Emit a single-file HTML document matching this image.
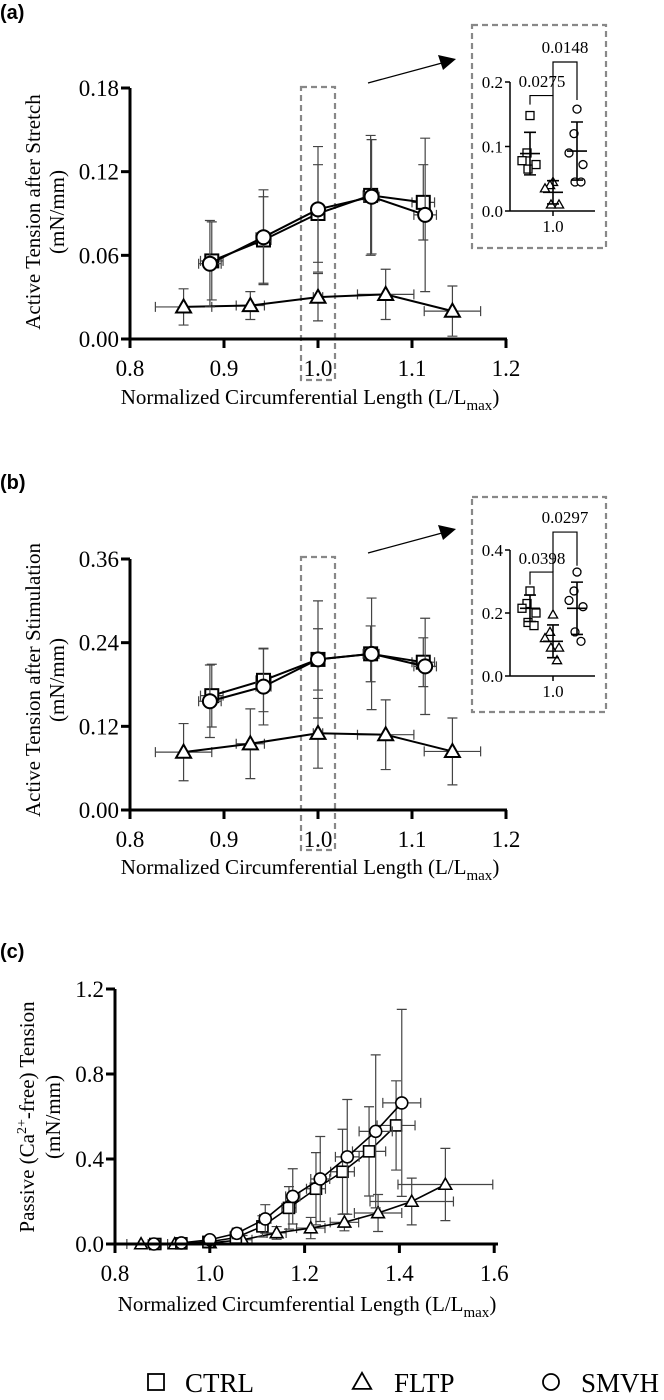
<!DOCTYPE html>
<html><head><meta charset="utf-8"><style>
body{margin:0;background:#fff;}
svg{display:block;font-family:"Liberation Serif",serif;}
.lab{font-family:"Liberation Sans",sans-serif;font-weight:bold;font-size:20px;}
</style></head><body>
<svg id="fig" width="664" height="1400" viewBox="0 0 664 1400" xmlns="http://www.w3.org/2000/svg"></svg>
<script>
// ---------- Data ----------
const aCtrlX=[0.887,0.942,1.0,1.056,1.112];
const aCtrlY=[0.056,0.071,0.090,0.103,0.098];
const aCtrlErr=[0.028,0.031,0.035,0.043,0.027];
const aCtrlXErr=[0.012,0.008,0.004,0.008,0.012];
const aSmvhX=[0.885,0.942,1.0,1.057,1.114];
const aSmvhY=[0.054,0.073,0.093,0.102,0.089];
const aSmvhErr=[0.031,0.034,0.045,0.041,0.055];
const aSmvhXErr=[0.012,0.008,0.004,0.008,0.012];
const aFltpX=[0.857,0.928,1.0,1.072,1.143];
const aFltpY=[0.023,0.024,0.030,0.032,0.020];
const aFltpErr=[0.013,0.010,0.017,0.018,0.018];
const aFltpXErr=[0.03,0.015,0.005,0.03,0.03];
const aYTicks=[0,0.06,0.12,0.18];
const aYTickLabels=["0.00","0.06","0.12","0.18"];
const aInsCtrl=[0.148,0.090,0.078,0.072,0.065];
const aInsFltp=[0.045,0.040,0.035,0.010,0.010];
const aInsSmvh=[0.158,0.120,0.090,0.072,0.045,0.045];
const aInsMean=[0.089,0.029,0.093];
const aInsSd=[0.033,0.018,0.045];
const aInsP=["0.0275","0.0148"];
const bCtrlX=[0.887,0.942,1.0,1.056,1.112];
const bCtrlY=[0.164,0.186,0.216,0.224,0.212];
const bCtrlErr=[0.045,0.045,0.044,0.040,0.035];
const bSmvhX=[0.885,0.942,1.0,1.057,1.114];
const bSmvhY=[0.156,0.177,0.216,0.224,0.206];
const bSmvhErr=[0.052,0.055,0.084,0.080,0.069];
const bXErr=[0.012,0.008,0.004,0.008,0.012];
const bFltpX=[0.857,0.928,1.0,1.072,1.143];
const bFltpY=[0.083,0.095,0.110,0.108,0.084];
const bFltpErr=[0.041,0.050,0.050,0.050,0.048];
const bFltpXErr=[0.03,0.015,0.005,0.03,0.03];
const bYTicks=[0,0.12,0.24,0.36];
const bYTickLabels=["0.00","0.12","0.24","0.36"];
const bInsCtrl=[0.27,0.23,0.215,0.20,0.17,0.16];
const bInsFltp=[0.195,0.14,0.12,0.09,0.09,0.05];
const bInsSmvh=[0.33,0.27,0.24,0.22,0.14,0.11];
const bInsMean=[0.215,0.110,0.215];
const bInsSd=[0.042,0.052,0.083];
const bInsP=["0.0398","0.0297"];
const cCtrlX=[0.885,0.94,0.997,1.055,1.111,1.167,1.224,1.28,1.336,1.393];
const cCtrlY=[0.0,0.003,0.01,0.03,0.083,0.17,0.26,0.34,0.436,0.558];
const cCtrlErr=[0.004,0.006,0.01,0.02,0.05,0.10,0.17,0.20,0.21,0.21];
const cSmvhX=[0.882,0.94,1.0,1.057,1.117,1.175,1.233,1.29,1.35,1.405];
const cSmvhY=[0.0,0.005,0.02,0.05,0.118,0.224,0.306,0.41,0.53,0.664];
const cSmvhErr=[0.005,0.01,0.012,0.025,0.067,0.13,0.20,0.27,0.36,0.44];
const cFltpX=[0.855,0.926,1.0,1.069,1.141,1.213,1.284,1.355,1.426,1.497];
const cFltpY=[0.0,0.0,0.005,0.02,0.052,0.075,0.102,0.146,0.20,0.28];
const cFltpErr=[0.003,0.005,0.01,0.02,0.03,0.05,0.04,0.087,0.11,0.17];
const cFltpXErr=[0.03,0.015,0.005,0.02,0.02,0.03,0.03,0.05,0.088,0.1];
const cXErr=[0.012,0.01,0.005,0.01,0.012,0.015,0.02,0.025,0.035,0.04];
const cYTicks=[0,0.4,0.8,1.2];
const cYTickLabels=["0.0","0.4","0.8","1.2"];
const cXTicks=[0.8,1.0,1.2,1.4,1.6];
const cXTickLabels=["0.8","1.0","1.2","1.4","1.6"];
const abXTicks=[0.8,0.9,1.0,1.1,1.2];
const abXTickLabels=["0.8","0.9","1.0","1.1","1.2"];

const NS="http://www.w3.org/2000/svg";
const fig=document.getElementById('fig');
function mk(tag,attrs,parent){const e=document.createElementNS(NS,tag);for(const k in attrs)e.setAttribute(k,attrs[k]);(parent||fig).appendChild(e);return e;}

function marker(g,shape,x,y,s,sw){
  let e;
  if(shape==='sq'){e=mk('rect',{x:x-s,y:y-s,width:2*s,height:2*s,fill:'#fff',stroke:'#000','stroke-width':sw},g);}
  else if(shape==='ci'){e=mk('circle',{cx:x,cy:y,r:s,fill:'#fff',stroke:'#000','stroke-width':sw},g);}
  else{const h=s*1.15;e=mk('polygon',{points:`${x},${y-h} ${x-h},${y+h*0.75} ${x+h},${y+h*0.75}`,fill:'#fff',stroke:'#000','stroke-width':sw},g);}
  return e;
}

function series(name,shape,xs,ys,ye,xe,X,Y,s,sw,lw){
  const g=mk('g',{});
  
  
  for(let i=0;i<xs.length;i++){
    const x=X(xs[i]),y=Y(ys[i]);
    const eb=mk('path',{d:`M${x},${Y(ys[i]+ye[i])}V${Y(Math.max(0,ys[i]-ye[i]))}M${x-5},${Y(ys[i]+ye[i])}h10M${x-5},${Y(Math.max(0,ys[i]-ye[i]))}h10M${X(xs[i]-xe[i])},${y}H${X(xs[i]+xe[i])}M${X(xs[i]-xe[i])},${y-5}v10M${X(xs[i]+xe[i])},${y-5}v10`,stroke:'#444','stroke-width':1.2,fill:'none'},g);
    
    
  }
  let d='';
  for(let i=0;i<xs.length;i++)d+=(i?'L':'M')+X(xs[i])+','+Y(ys[i]);
  const ln=mk('path',{d:d,stroke:'#000','stroke-width':lw,fill:'none'},g);
  
  
  for(let i=0;i<xs.length;i++){
    const m=marker(g,shape,X(xs[i]),Y(ys[i]),s,sw);
    
    
  }
}

function axes(pfx,X,Y,x0,x1,yTicks,yLabels,xTicks,xLabels,yTop,xEnd){
  const g=mk('g',{});
  
  
  const ya=mk('line',{x1:x0,y1:Y(yTop),x2:x0,y2:Y(0)+1.5,stroke:'#000','stroke-width':3},g);
  
  
  const xa=mk('line',{x1:x0-1.5,y1:Y(0),x2:xEnd,y2:Y(0),stroke:'#000','stroke-width':3},g);
  
  
  yTicks.forEach((v,i)=>{
    mk('line',{x1:x0-9,y1:Y(v),x2:x0,y2:Y(v),stroke:'#000','stroke-width':3},g);
    const t=mk('text',{x:x0-11,y:Y(v)+8,'text-anchor':'end','font-size':23},g);
    t.textContent=yLabels[i];
    
    
  });
  xTicks.forEach((v,i)=>{
    mk('line',{x1:X(v),y1:Y(0),x2:X(v),y2:Y(0)+9,stroke:'#000','stroke-width':3},g);
    const t=mk('text',{x:X(v),y:Y(0)+37,'text-anchor':'middle','font-size':23},g);
    t.textContent=xLabels[i];
    
    
  });
}

function xTitle(pfx,cx,cy){
  const t=mk('text',{x:cx,y:cy,'text-anchor':'middle','font-size':21});
  
  
  t.innerHTML='Normalized Circumferential Length (L/L<tspan font-size="15" dy="6">max</tspan><tspan dy="-6">)</tspan>';
}
function yTitle(pfx,x1,x2,cy,line1html){
  const t=mk('text',{x:0,y:0,'text-anchor':'middle','font-size':21,transform:`translate(${x1},${cy}) rotate(-90)`});
  
  
  t.innerHTML=line1html;
  const t2=mk('text',{x:0,y:0,'text-anchor':'middle','font-size':21,transform:`translate(${x2},${cy}) rotate(-90)`});
  
  
  t2.textContent='(mN/mm)';
}
function panelLabel(txt,y){
  const t=mk('text',{x:0,y:y,'class':'lab'});
  
  
  t.textContent=txt;
}
function highlight(pfx,top,bot){
  const r=mk('rect',{x:301,y:top,width:34,height:bot-top,fill:'none',stroke:'#888','stroke-width':2.2,'stroke-dasharray':'6,4'});
  
  
  const a=mk('line',{x1:368,y1:top-4,x2:442,y2:top-24,stroke:'#000','stroke-width':1.3});
  
  
  const h=mk('polygon',{points:`${456},${top-28} ${438},${top-32} ${443},${top-17}`,fill:'#000'});
  
  
}

function inset(pfx,boxTop,boxBot,y0,scale,ticks,tickLabels,groups,means,sds,pvals,br1,br2,lab1y,lab2y){
  const g=mk('g',{});
  
  
  const b=mk('rect',{x:472,y:boxTop,width:134,height:boxBot-boxTop,fill:'none',stroke:'#888','stroke-width':2.2,'stroke-dasharray':'6,4'},g);
  
  
  const Y=v=>y0-v*scale;
  const ax=510;
  mk('line',{x1:ax,y1:Y(ticks[ticks.length-1]),x2:ax,y2:y0,stroke:'#000','stroke-width':1.5},g);
  mk('line',{x1:ax,y1:y0,x2:595,y2:y0,stroke:'#000','stroke-width':1.5},g);
  mk('line',{x1:553,y1:y0,x2:553,y2:y0+5,stroke:'#000','stroke-width':1.5},g);
  ticks.forEach((v,i)=>{
    mk('line',{x1:ax-5,y1:Y(v),x2:ax,y2:Y(v),stroke:'#000','stroke-width':1.5},g);
    const t=mk('text',{x:ax-7,y:Y(v)+6,'text-anchor':'end','font-size':17},g);
    t.textContent=tickLabels[i];
    
    
  });
  const xl=mk('text',{x:553,y:y0+21,'text-anchor':'middle','font-size':17},g);
  xl.textContent='1.0';
  
  
  const gx=[530,553,577];
  const shapes=['sq','tr','ci'];
  const names=['ctrl','fltp','smvh'];
  const jit=[0,-3,-8,6,-2,4];
  groups.forEach((pts,gi)=>{
    pts.forEach((v,i)=>{
      const m=marker(g,shapes[gi],gx[gi]+jit[i%jit.length],Y(v),shapes[gi]==='ci'?4:4,1.3);
      
      
    });
    const x=gx[gi],m=means[gi],s=sds[gi];
    const e=mk('path',{d:`M${x},${Y(m+s)}V${Y(m-s)}M${x-6},${Y(m+s)}h12M${x-6},${Y(m-s)}h12M${x-10},${Y(m)}h20`,stroke:'#000','stroke-width':1.6,fill:'none'},g);
    
    
  });
  const b1=mk('path',{d:`M${gx[0]},${Y(br1[1])}V${Y(br1[0])}H${gx[1]}V${Y(br1[2])}`,stroke:'#000','stroke-width':1.2,fill:'none'},g);
  
  
  const b2=mk('path',{d:`M${gx[1]},${Y(br1[0])}V${Y(br2[0])}H${gx[2]}V${Y(br2[1])}`,stroke:'#000','stroke-width':1.2,fill:'none'},g);
  
  
  const p1=mk('text',{x:542,y:lab1y,'text-anchor':'middle','font-size':17},g);
  p1.textContent=pvals[0];
  
  
  const p2=mk('text',{x:565,y:lab2y,'text-anchor':'middle','font-size':17},g);
  p2.textContent=pvals[1];
  
  
}

{
  const X=v=>130+(v-0.8)*940, Y=v=>339-v*1394.4;
  panelLabel('(a)',19);
  highlight('panel-a',87,380);
  series('panel-a-fltp','tr',aFltpX,aFltpY,aFltpErr,aFltpXErr,X,Y,6.5,2,2);
  series('panel-a-ctrl','sq',aCtrlX,aCtrlY,aCtrlErr,aCtrlXErr,X,Y,6.5,2,2);
  series('panel-a-smvh','ci',aSmvhX,aSmvhY,aSmvhErr,aSmvhXErr,X,Y,7,2,2);
  axes('panel-a',X,Y,130,506,aYTicks,aYTickLabels,abXTicks,abXTickLabels,0.18,507);
  xTitle('panel-a',310,404);
  yTitle('panel-a',40,64,212,'Active Tension after Stretch');
  inset('panel-a',25,248,211,645,[0,0.1,0.2],["0.0","0.1","0.2"],[aInsCtrl,aInsFltp,aInsSmvh],aInsMean,aInsSd,aInsP,[0.179,0.165,0.048],[0.231,0.172],87,53);
}
{
  const X=v=>130+(v-0.8)*940, Y=v=>810-v*697.2;
  panelLabel('(b)',489);
  highlight('panel-b',557,850);
  series('panel-b-fltp','tr',bFltpX,bFltpY,bFltpErr,bFltpXErr,X,Y,6.5,2,2);
  series('panel-b-ctrl','sq',bCtrlX,bCtrlY,bCtrlErr,bXErr,X,Y,6.5,2,2);
  series('panel-b-smvh','ci',bSmvhX,bSmvhY,bSmvhErr,bXErr,X,Y,7,2,2);
  axes('panel-b',X,Y,130,506,bYTicks,bYTickLabels,abXTicks,abXTickLabels,0.36,507);
  xTitle('panel-b',310,874);
  yTitle('panel-b',40,64,680,'Active Tension after Stimulation');
  inset('panel-b',497,712,676,315,[0,0.2,0.4],["0.0","0.2","0.4"],[bInsCtrl,bInsFltp,bInsSmvh],bInsMean,bInsSd,bInsP,[0.33,0.29,0.205],[0.457,0.35],564,523);
}
{
  const X=v=>115+(v-0.8)*474, Y=v=>1244-v*212.5;
  panelLabel('(c)',958);
  series('panel-c-fltp','tr',cFltpX,cFltpY,cFltpErr,cFltpXErr,X,Y,5.5,1.6,1.6);
  series('panel-c-ctrl','sq',cCtrlX,cCtrlY,cCtrlErr,cXErr,X,Y,5.5,1.6,1.6);
  series('panel-c-smvh','ci',cSmvhX,cSmvhY,cSmvhErr,cXErr,X,Y,6,1.6,1.6);
  axes('panel-c',X,Y,115,498,cYTicks,cYTickLabels,cXTicks,cXTickLabels,1.2,498);
  xTitle('panel-c',307,1311);
  yTitle('panel-c',34,60,1117,'Passive (Ca<tspan font-size="14" dy="-8">2+</tspan><tspan dy="8">-free) Tension</tspan>');
}
{
  const g=mk('g',{});
  
  
  const items=[['sq','CTRL',156,185],['tr','FLTP',362,394],['ci','SMVH',551,581]];
  items.forEach(it=>{
    const e=mk('g',{},g);
    
    
    marker(e,it[0],it[2],1382,8,1.8);
    const t=mk('text',{x:it[3],y:1392,'font-size':27},e);
    t.textContent=it[1];
  });
}
</script>
</body></html>
